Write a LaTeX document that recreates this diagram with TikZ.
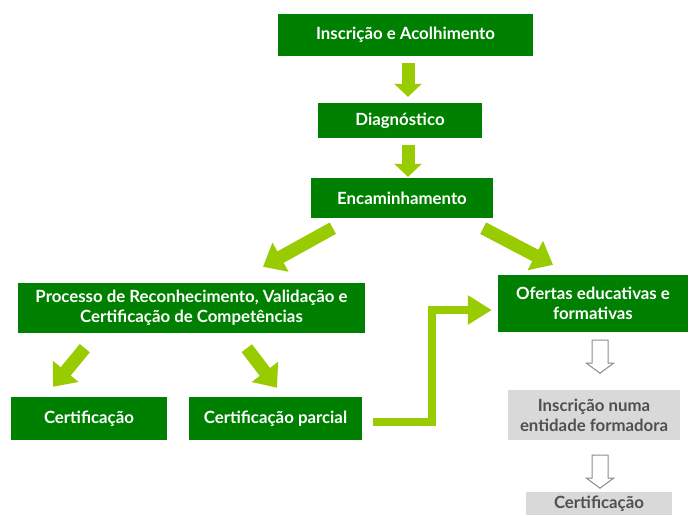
\documentclass[tikz,border=0pt]{standalone}
\usepackage{fontspec}
\setmainfont{Lato}
\usetikzlibrary{arrows.meta}
\usetikzlibrary{calc}
\definecolor{boxgreen}{RGB}{0,128,0}
\definecolor{arrowgreen}{RGB}{153,204,0}
\definecolor{boxgray}{RGB}{217,217,217}
\definecolor{textgray}{RGB}{80,80,80}
\tikzset{
  greenbox/.style={fill=boxgreen, text=white, font=\bfseries\fontsize{16.8}{20}\selectfont, align=center, inner sep=0pt},
  graybox/.style={fill=boxgray, text=textgray, font=\bfseries\fontsize{16.8}{20}\selectfont, align=center, inner sep=0pt},
  bigarrow/.style={draw=arrowgreen, line width=13pt, -{Triangle[width=27pt,length=13pt]}},
  slantarrow/.style={draw=arrowgreen, line width=13pt, -{Triangle[width=32pt,length=20pt]}},
  elbowarrow/.style={draw=arrowgreen, line width=8pt, line join=miter, -{Triangle[width=28pt,length=24pt]}},
  hollowarrow/.style={draw=gray!90, fill=white, line width=1pt, line join=miter}
}
\begin{document}
\begin{tikzpicture}[x=1pt,y=-1pt]
\useasboundingbox (0,0) rectangle (689,515);
% top row
\node[greenbox, minimum width=255pt, minimum height=42pt] (ins) at (405.5,35) {Inscrição e Acolhimento};
\node[greenbox, minimum width=164pt, minimum height=35pt] (diag) at (400,120.5) {Diagnóstico};
\node[greenbox, minimum width=182pt, minimum height=40pt] (enc) at (402,198) {Encaminhamento};
% left branch
\node[greenbox, minimum width=347pt, minimum height=50pt] (proc) at (191.5,308) {Processo de Reconhecimento, Validação e\\Certificação de Competências};
\node[greenbox, minimum width=156pt, minimum height=43pt] (cert) at (89,418.5) {Certificação};
\node[greenbox, minimum width=173pt, minimum height=43pt] (certp) at (275.5,418.5) {Certificação parcial};
% right branch
\node[greenbox, minimum width=190pt, minimum height=57pt] (oft) at (593,303.5) {Ofertas educativas e\\formativas};
\node[graybox, minimum width=172pt, minimum height=50pt] (insc) at (594,415) {Inscrição numa\\entidade formadora};
\node[graybox, minimum width=146pt, minimum height=23pt] (certg) at (599,503.5) {Certificação};

\draw[bigarrow] ($(ins.south)+(2.5,7)$) -- ($(diag.north)+(8,-6)$);
\draw[bigarrow] ($(diag.south)+(8,7)$) -- ($(enc.north)+(6,-1)$);
\draw[slantarrow] ($(enc.south west)+(22,10)$) -- ($(proc.north)+(71.5,-16)$);
\draw[slantarrow] ($(enc.south east)+(-10,10)$) -- ($(oft.north)+(-40,-10)$);
\draw[slantarrow] ($(proc.south west)+(67,15)$) -- ($(cert.north)+(-36,-10)$);
\draw[slantarrow] ($(proc.south west)+(229,15)$) -- ($(certp.north)+(1.5,-9)$);
\draw[elbowarrow] ($(certp.east)+(11,3.5)$) -| ($(oft.west)+(-66,6.5)$) -- ($(oft.west)+(-6,6.5)$);

% gray hollow arrows
\coordinate (ga1) at ($(oft.south)+(7,8)$);
\coordinate (ga2) at ($(insc.south)+(6,15)$);
\foreach \a in {ga1,ga2}
  \draw[hollowarrow] (\a) ++(-8,0) -- ++(16,0) -- ++(0,23) -- ++(5.5,0) -- ++(-13.5,10) -- ++(-13.5,-10) -- ++(5.5,0) -- cycle;
\end{tikzpicture}
\end{document}
